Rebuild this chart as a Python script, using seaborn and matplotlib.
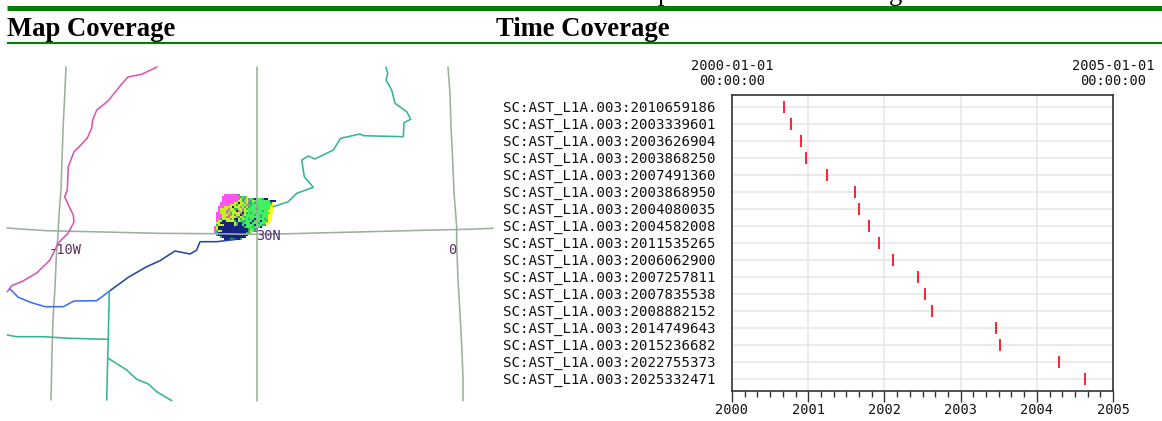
import matplotlib
matplotlib.use("Agg")
import matplotlib.pyplot as plt
from matplotlib.colors import ListedColormap
from matplotlib.lines import Line2D
from matplotlib.ticker import MultipleLocator
import numpy as np
import seaborn as sns

# Granules and their start time (fractional year)
granules = [
    "SC:AST_L1A.003:2010659186", "SC:AST_L1A.003:2003339601", "SC:AST_L1A.003:2003626904",
    "SC:AST_L1A.003:2003868250", "SC:AST_L1A.003:2007491360", "SC:AST_L1A.003:2003868950",
    "SC:AST_L1A.003:2004080035", "SC:AST_L1A.003:2004582008", "SC:AST_L1A.003:2011535265",
    "SC:AST_L1A.003:2006062900", "SC:AST_L1A.003:2007257811", "SC:AST_L1A.003:2007835538",
    "SC:AST_L1A.003:2008882152", "SC:AST_L1A.003:2014749643", "SC:AST_L1A.003:2015236682",
    "SC:AST_L1A.003:2022755373", "SC:AST_L1A.003:2025332471",
]
start_year = [
    2000.686, 2000.774, 2000.906, 2000.975, 2001.243, 2001.62, 2001.667, 2001.80, 2001.933,
    2002.109, 2002.445, 2002.533, 2002.625, 2003.469, 2003.517, 2004.295, 2004.629,
]
year_ticks = [2000, 2001, 2002, 2003, 2004, 2005]

# Map traces, in map units
graticule_west_x = [66, 64.5, 63, 62, 61, 59, 58, 56.5, 55, 53, 52, 51]
graticule_west_y = [67, 100, 130, 160, 190, 215, 235, 253, 287, 320, 353, 400]
graticule_mid_x = [257, 257]
graticule_mid_y = [67, 400.7]
graticule_east_x = [448, 450, 451, 452.7, 454, 456.7, 456.7, 458, 460, 461.7, 463, 463]
graticule_east_y = [67, 93, 127, 160, 193, 227, 245, 280, 313, 345, 378, 400.7]
parallel_x = [7, 25, 46.7, 90.7, 157.7, 213, 250, 290, 356.7, 423, 468, 493]
parallel_y = [228, 229.3, 230.7, 231.7, 233.3, 233.7, 234.3, 233.7, 232, 230.3, 229.3, 228.3]

pink_x = [157, 141.7, 128, 121.7, 108, 96.7, 92.7, 91.7, 87.3, 78.3, 74, 68.3, 67.3, 64.7, 68.3,
          73.3, 74, 68.3, 58.3, 50, 36.7, 21.7, 11.7, 7.3]
pink_y = [67, 74.3, 77, 84, 101, 110, 120, 128, 138, 147.7, 151.7, 166.7, 190, 196.7, 205,
          215, 222, 233, 243, 260, 273, 281.7, 285.7, 291.7]
river_dark_x = [236.7, 216.7, 200, 196.7, 190, 175, 160, 146.7, 128.3, 110]
river_dark_y = [239.3, 241.7, 241.7, 250, 254, 251, 260.7, 266.7, 277.3, 290.7]
river_bright_x = [110, 96.7, 74, 63.3, 45, 31.7, 18.3, 10]
river_bright_y = [290.7, 300.7, 301, 306.7, 306.7, 302.7, 297.3, 289]
border_north_x = [273.3, 288.3, 296.7, 313.3, 304.3, 301.7, 308.3, 315, 333.3, 340.7, 360, 363.3,
                  403.3, 404, 410.7, 406.7, 395, 391.7, 386, 387.7, 386]
border_north_y = [206.7, 201.7, 193.3, 187.3, 176.7, 160, 156, 159, 150, 138.3, 134, 135.7,
                  136.7, 122.7, 119.3, 111.7, 103.3, 90, 80, 73.3, 67.3]
border_south_x = [109.3, 108.7, 107.7, 106.7]
border_south_y = [291.7, 320, 358.3, 400]
border_west_x = [7.3, 16.7, 43.3, 70, 107.7]
border_west_y = [335, 336.7, 336.7, 338.3, 339.3]
border_diag_x = [108.3, 126.7, 136.7, 148.3, 156.7, 171.7]
border_diag_y = [358.3, 370, 379.3, 384, 391.7, 400.7]

# Coverage footprint, one letter per cell
footprint = [
    ".....MMMMMMMT",
    "....MMMMMMMMMTGTL",
    "....MMMMMMMMMLTPLTGTBGGGTBB",
    "....MMMMMMMMLLTGLPTLGGGGGGGGBBB",
    "...MMMMMMMLLBLLPLTTGTGGGGGGGTY",
    "...MMMMMLLLTLLGLPPTGGTGGGGGGGY",
    "..MMMLLLLBLLLPLTLTGGGTGGGGGGYY",
    "..MLLLLPLLTTLLPLTGGGGBGGGGGGYY",
    "..MLLLPPLLLBPLTLLGGGGGGGTGGYYY",
    ".MMLLLPLTLLLLPBLTGTGGTGGGGGGYY",
    ".MMMLLLPPLTLLBPLGGGGTGGTGGGYY",
    ".MMMLLPPLLLPTLGTGGGGGGGTGGGYY",
    ".MMTLLLLPLBBLTLGGTGGBGGGGTGYY",
    ".MLLBBLLLLTBLGTTGGGBGGGBGGTYY",
    ".LLBBBBBBBLTBBTGGGBGGGTGGGYY",
    ".TLLLBBBBBLTBBGBGGGGBGGGTTY",
    "MLBBBBBBBBBBBBBTGGGTGGGB",
    "MLBBBBBBBBBBBBBBBTGGTB",
    "MTLLBBBBBBBBBBBBBTLGTB",
    "MTBBBBBBBBBBBBBBTTL",
    ".TBBBBBBBBBBBBBBB",
    "...TBBBBBBBBBBBB",
    ".....BBBTTBBBT",
]
footprint_codes = "MLGBYTP"
footprint_colors = ["#ff55f0", "#c8f020", "#40f060", "#14237f", "#ffff20", "#30b070", "#c080a0"]

W, H = 1162, 421


def box(left, top, right, bottom):
    return [left / W, 1 - bottom / H, (right - left) / W, (bottom - top) / H]


sns.set_theme(style="white")
plt.rcParams["font.family"] = ["DejaVu Sans Mono"]
fig = plt.figure(figsize=(W / 100, H / 100), dpi=100)

# page header
fig.add_artist(Line2D([7 / W, 1], [1 - 7.5 / H] * 2, color="#008000", lw=3.6, solid_capstyle="butt"))
fig.add_artist(Line2D([7 / W, 1], [1 - 43 / H] * 2, color="#008000", lw=1.5, solid_capstyle="butt"))
fig.text(7 / W, 1 - 36 / H, "Map Coverage", family="Liberation Serif", weight="bold", size=19.2, color="black")
fig.text(496 / W, 1 - 36 / H, "Time Coverage", family="Liberation Serif", weight="bold", size=19.2, color="black")
# descenders of the clipped line above the header
fig.text(658 / W, 1 - 0 / H, "p", family="Liberation Serif", size=19.2, color="black")
fig.text(889 / W, 1 - 0 / H, "g", family="Liberation Serif", size=19.2, color="black")

# footprint as a heatmap of letter codes
n_cols = max(len(r) for r in footprint)
cells = np.array([[footprint_codes.find(c) for c in r.ljust(n_cols, ".")] for r in footprint], dtype=float)
ax_foot = fig.add_axes(box(214, 194, 214 + 2 * n_cols, 194 + 2 * len(footprint)))
sns.heatmap(cells, mask=cells < 0, cmap=ListedColormap(footprint_colors), vmin=-0.5, vmax=6.5,
            cbar=False, xticklabels=False, yticklabels=False, ax=ax_foot)
ax_foot.patch.set_alpha(0)

# map panel, above the footprint so the graticule shows through
ax_map = fig.add_axes(box(0, 60, 495, 410))
for xs, ys, col in [
    (graticule_west_x, graticule_west_y, "#9db09d"),
    (graticule_mid_x, graticule_mid_y, "#9db09d"),
    (graticule_east_x, graticule_east_y, "#9db09d"),
    (parallel_x, parallel_y, "#9db09d"),
    (pink_x, pink_y, "#d855b5"),
    (river_dark_x, river_dark_y, "#24479f"),
    (river_bright_x, river_bright_y, "#3f6fee"),
    (border_north_x, border_north_y, "#35b595"),
    (border_south_x, border_south_y, "#35b595"),
    (border_west_x, border_west_y, "#35b595"),
    (border_diag_x, border_diag_y, "#35b595"),
]:
    sns.lineplot(x=xs, y=ys, sort=False, estimator=None, color=col, linewidth=1.15, ax=ax_map)
ax_map.set_xlim(0, 495)
ax_map.set_ylim(410, 60)
ax_map.axis("off")
ax_map.text(65, 250, "-10W", color="#5e2f62", size=9.8, ha="center", va="center", zorder=5)
ax_map.text(268.5, 235.5, "30N", color="#4c2f7c", size=9.8, ha="center", va="center", zorder=5)
ax_map.text(452.5, 250, "0", color="#5e2f62", size=9.8, ha="center", va="center", zorder=5)

# time panel
ax = fig.add_axes(box(732, 95, 1113, 390.7))
sns.scatterplot(x=start_year, y=granules, marker="|", s=75, linewidth=1.4, color="#ff2035", zorder=3, ax=ax)
ax.set_xlim(2000, 2005)
ax.set_ylim(16.7, -0.69)
ax.set_xticks(year_ticks)
ax.set_xticklabels([str(y) for y in year_ticks])
ax.xaxis.set_minor_locator(MultipleLocator(1 / 6))
ax.grid(True, which="major", color="#e6e6e6", linewidth=1.1)
ax.set_axisbelow(True)
ax.tick_params(axis="x", which="major", bottom=True, length=8, width=1.0, color="#333333",
               labelsize=9.8, labelcolor="#111111", pad=1)
ax.tick_params(axis="x", which="minor", bottom=True, length=4.3, width=1.0, color="#333333")
ax.tick_params(axis="y", length=0, labelsize=10.2, labelcolor="#111111", pad=165)
for lab in ax.get_yticklabels():
    lab.set_ha("left")
for side in ax.spines.values():
    side.set_color("#333333")
    side.set_linewidth(1.2)
for yr, lab in [(2000, "2000-01-01\n00:00:00"), (2005, "2005-01-01\n00:00:00")]:
    ax.annotate(lab, xy=(yr, 1), xycoords=("data", "axes fraction"), xytext=(0, 5),
                textcoords="offset points", ha="center", va="bottom", size=9.9,
                color="#111111", linespacing=1.1, annotation_clip=False)

fig.savefig("out.png", dpi=100)
